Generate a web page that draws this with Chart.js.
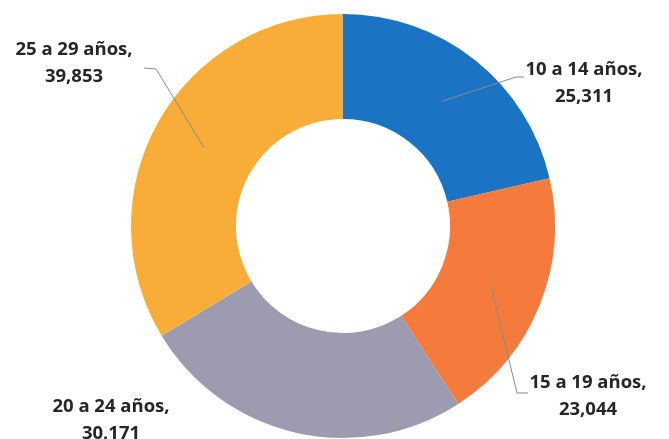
<!DOCTYPE html>
<html>
<head>
<meta charset="utf-8">
<script src="https://cdn.jsdelivr.net/npm/chart.js@4/dist/chart.umd.min.js"></script>
<style>
  html, body { margin: 0; padding: 0; background: #fff; }
  #wrap { width: 669px; height: 439px; }
</style>
</head>
<body>
<div id="wrap"><canvas id="chart" width="669" height="439"></canvas></div>
<script>
// ── Data ──────────────────────────────────────────────────────────────── //
var categories = ['10 a 14 años', '15 a 19 años', '20 a 24 años', '25 a 29 años'];
var values     = [25311, 23044, 30171, 39853];
var colors     = ['#1B74C3', '#F47B3C', '#9C9BB0', '#F7AD38'];

// label placement (text centre x, first line y, leader end / elbow)
var labelPos = [
  { x: 584, y: 70,  end: [524, 77],  elbow: [516, 77] },
  { x: 588, y: 383, end: [528, 393], elbow: [517, 393] },
  { x: 111, y: 407, end: null,       elbow: null },
  { x: 74,  y: 50,  end: [144, 68],  elbow: [156, 69] }
];

function fmt(n) { return n.toString().replace(/\B(?=(\d{3})+(?!\d))/g, ','); }

// ── Data labels with leader lines ─────────────────────────────────────── //
var labelPlugin = {
  id: 'donutLabels',
  afterDatasetsDraw: function (chart) {
    var ctx = chart.ctx;
    var meta = chart.getDatasetMeta(0);
    ctx.save();
    meta.data.forEach(function (arc, i) {
      var p = labelPos[i];
      if (p.end) {
        var c = arc.getCenterPoint();
        ctx.strokeStyle = '#8a8a8a';
        ctx.lineWidth = 1;
        ctx.beginPath();
        ctx.moveTo(c.x, c.y);
        ctx.lineTo(p.elbow[0], p.elbow[1]);
        ctx.lineTo(p.end[0], p.end[1]);
        ctx.stroke();
      }
      ctx.fillStyle = '#262626';
      ctx.font = '700 18.5px "Open Sans", sans-serif';
      ctx.textAlign = 'center';
      ctx.textBaseline = 'middle';
      ctx.fillText(categories[i] + ',', p.x, p.y);
      ctx.fillText(fmt(values[i]), p.x, p.y + 27);
    });
    ctx.restore();
  }
};

new Chart(document.getElementById('chart').getContext('2d'), {
  type: 'doughnut',
  data: {
    labels: categories,
    datasets: [{
      data: values,
      backgroundColor: colors,
      borderWidth: 0
    }]
  },
  options: {
    responsive: false,
    animation: false,
    cutout: '50.5%',
    rotation: 0,
    layout: { padding: { left: 131, right: 114, top: 14, bottom: 1 } },
    plugins: {
      legend: { display: false },
      tooltip: { enabled: false }
    }
  },
  plugins: [labelPlugin]
});
</script>
</body>
</html>
